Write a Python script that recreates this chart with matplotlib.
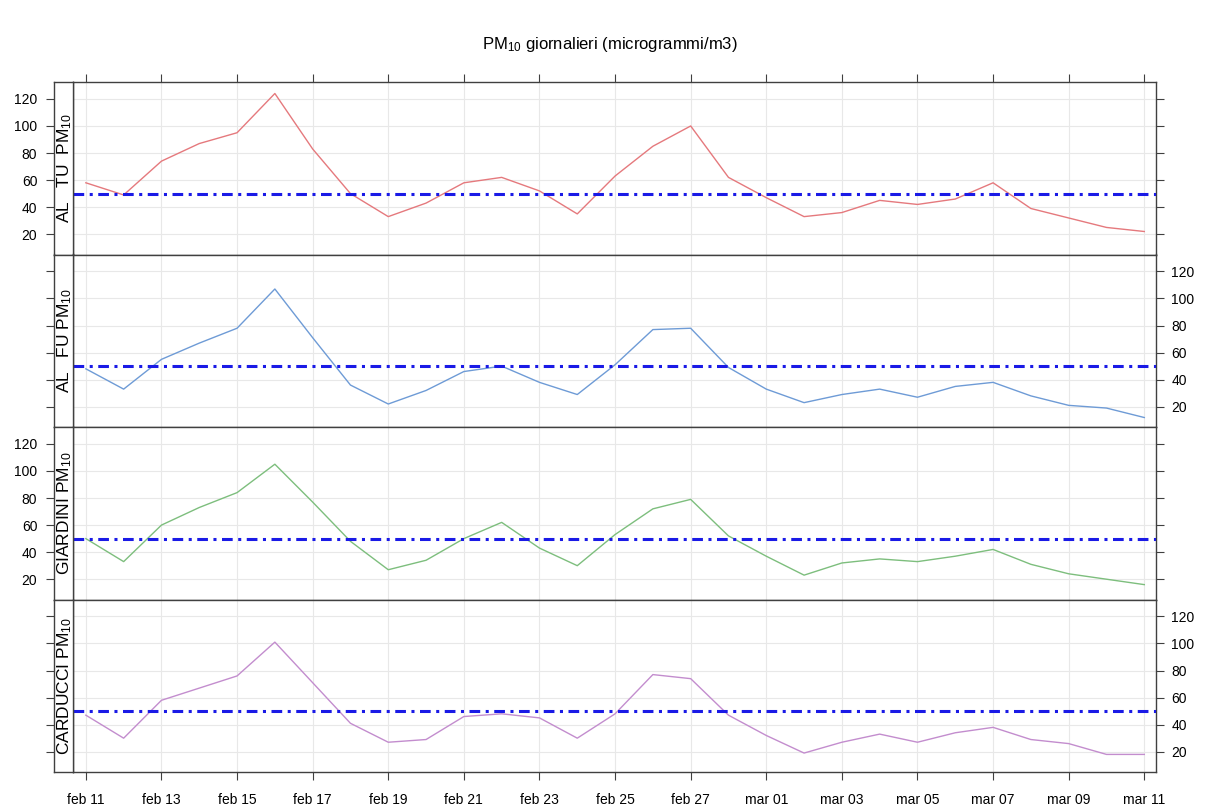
import matplotlib
matplotlib.use("Agg")
import matplotlib.pyplot as plt
import numpy as np

rcParams = {'font.family': 'sans-serif',
            'font.sans-serif': ['Liberation Sans', 'DejaVu Sans'],
            'mathtext.fontset': 'custom',
            'mathtext.rm': 'Liberation Sans',
            'mathtext.it': 'Liberation Sans:italic',
            'axes.unicode_minus': False,
            }

# daily PM10 values, feb 11 -> mar 11 (one value per day)
al_tu = [58, 49, 74, 87, 95, 124, 83, 50, 33, 43, 58, 62, 52, 35, 63,
         85, 100, 62, 47, 33, 36, 45, 42, 46, 58, 39, 32, 25, 22]
al_fu = [48, 33, 55, 67, 78, 107, 71, 36, 22, 32, 46, 50, 38, 29, 51,
         77, 78, 49, 33, 23, 29, 33, 27, 35, 38, 28, 21, 19, 12]
giardini = [50, 33, 60, 73, 84, 105, 77, 48, 27, 34, 50, 62, 43, 30, 53,
            72, 79, 52, 37, 23, 32, 35, 33, 37, 42, 31, 24, 20, 16]
carducci = [47, 30, 58, 67, 76, 101, 71, 41, 27, 29, 46, 48, 45, 30, 48,
            77, 74, 47, 32, 19, 27, 33, 27, 34, 38, 29, 26, 18, 18]

stations = ['AL   TU  PM$_{10}$', 'AL   FU PM$_{10}$',
            'GIARDINI PM$_{10}$', 'CARDUCCI PM$_{10}$']
colors = ['#e5797d', '#6e9bd6', '#7dbe7d', '#c38dce']

x_tick_labels = ['feb 11', 'feb 13', 'feb 15', 'feb 17', 'feb 19', 'feb 21',
                 'feb 23', 'feb 25', 'feb 27', 'mar 01', 'mar 03', 'mar 05',
                 'mar 07', 'mar 09', 'mar 11']
y_ticks = [20, 40, 60, 80, 100, 120]
limit = 50  # soglia giornaliera

W, H = 1211, 811


def px_rect(x0, y0, x1, y1):
    # pixel box (top-left origin) -> figure fraction
    return [x0 / W, 1 - y1 / H, (x1 - x0) / W, (y1 - y0) / H]


def style_spines(a):
    for s in a.spines.values():
        s.set_color('#404040')
        s.set_linewidth(1.0)


def panel(fig, i, values, label, color):
    top = 82 + i * 172.5
    bot = top + 172.5
    ax = fig.add_axes(px_rect(73, top, 1156, bot))
    strip = fig.add_axes(px_rect(54, top, 73, bot))

    days = np.arange(len(values))
    ax.plot(days, values, color=color, linewidth=1.0, zorder=3)
    ax.axhline(limit, color='#1a1ae6', linewidth=2.2,
               linestyle=(0, (3.5, 1.8, 1, 1.8)), zorder=4)

    ax.set_xlim(-0.34, 28.31)
    ax.set_ylim(5, 132.5)
    ax.set_xticks(np.arange(0, len(values), 2))
    ax.set_yticks(y_ticks)
    ax.grid(True, color='#e8e8e8', linewidth=0.8, zorder=0)
    ax.set_axisbelow(True)

    # y: ticks right on the panel, left on the strip; labels alternate
    ax.tick_params(axis='y', left=False, right=True, labelleft=False,
                   labelright=(i % 2 == 1), direction='out', length=6,
                   width=0.8, pad=5, labelsize=10, color='#404040')
    # x: ticks on top of first panel, labels under the last one
    ax.tick_params(axis='x', top=(i == 0), bottom=(i == 3), labeltop=False,
                   labelbottom=(i == 3), direction='out', length=6,
                   width=0.8, pad=9, labelsize=10, color='#404040')
    if i == 3:
        ax.set_xticklabels(x_tick_labels)
    style_spines(ax)

    strip.set_ylim(ax.get_ylim())
    strip.set_xticks([])
    strip.set_yticks(y_ticks)
    strip.tick_params(axis='y', left=True, right=False,
                      labelleft=(i % 2 == 0), direction='out', length=6,
                      width=0.8, pad=6, labelsize=10, color='#404040')
    strip.text(0.55, 0.5, label, rotation=90, ha='center', va='center',
               transform=strip.transAxes, fontsize=12.5)
    style_spines(strip)
    return ax


if __name__ == '__main__':
    plt.rcParams.update(rcParams)
    fig = plt.figure(figsize=(W / 100, H / 100), dpi=100)
    for i, (vals, lab, col) in enumerate(zip([al_tu, al_fu, giardini, carducci],
                                             stations, colors)):
        panel(fig, i, vals, lab, col)
    fig.text(610 / W, 1 - 45 / H, 'PM$_{10}$ giornalieri (microgrammi/m3)',
             ha='center', va='center', fontsize=12)
    fig.savefig('out.png', dpi=100)
